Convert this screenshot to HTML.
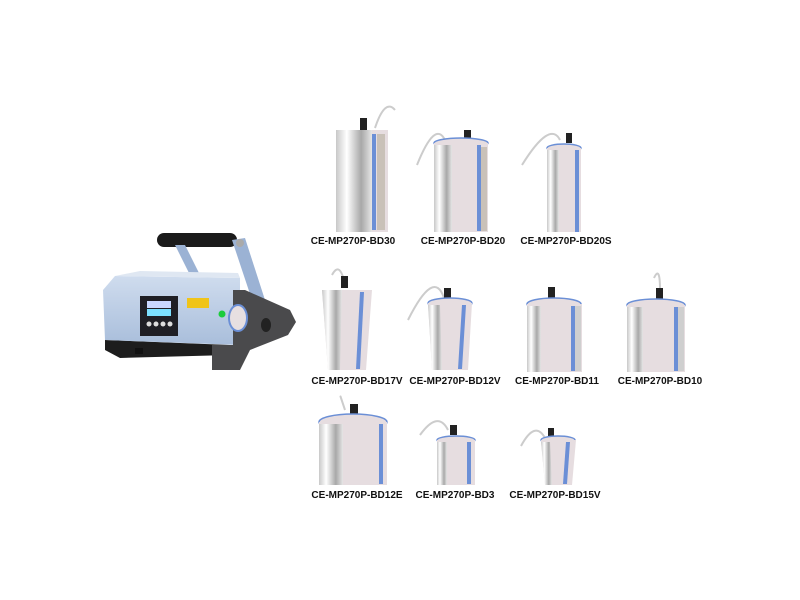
<!DOCTYPE html>
<html><head><meta charset="utf-8"><style>
html,body{margin:0;padding:0;background:#fff;}
svg{display:block}
text{font-family:"Liberation Sans",sans-serif;font-weight:bold;font-size:10px;fill:#111;text-anchor:middle}
</style></head><body>
<svg width="800" height="600" viewBox="0 0 800 600" xmlns="http://www.w3.org/2000/svg">
<defs>
<linearGradient id="sv" x1="0" x2="1" y1="0" y2="0">
<stop offset="0" stop-color="#c8c8c8"/><stop offset="0.3" stop-color="#ffffff"/><stop offset="0.7" stop-color="#a8a8a8"/><stop offset="1" stop-color="#e6e6e6"/>
</linearGradient>
<linearGradient id="bl" x1="0" x2="0" y1="0" y2="1">
<stop offset="0" stop-color="#cfdcee"/><stop offset="1" stop-color="#a9bedb"/>
</linearGradient>
</defs>

<!-- machine -->
<rect x="157" y="233" width="80" height="14" rx="7" fill="#1b1b1b"/>
<polygon points="175,245 185,245 200,275 190,275" fill="#9bb2d4"/>
<polygon points="232,240 245,238 265,300 252,300" fill="#9bb2d4"/>
<circle cx="240" cy="243" r="4" fill="#aaa"/>
<polygon points="105,340 230,345 230,355 120,358 105,350" fill="#1d1d1d"/>
<polygon points="103,290 115,276 240,278 240,345 105,340" fill="url(#bl)"/>
<polygon points="115,276 140,271 238,273 240,278" fill="#dfe7f2"/>
<rect x="140" y="296" width="38" height="40" fill="#1f1f25"/>
<rect x="147" y="301" width="24" height="7" fill="#c9d8ff"/>
<rect x="147" y="309" width="24" height="7" fill="#7ce0ff"/>
<circle cx="149" cy="324" r="2.5" fill="#ddd"/><circle cx="156" cy="324" r="2.5" fill="#ddd"/><circle cx="163" cy="324" r="2.5" fill="#ddd"/><circle cx="170" cy="324" r="2.5" fill="#ddd"/>
<rect x="187" y="298" width="22" height="10" fill="#f0c419"/>
<circle cx="222" cy="314" r="3.5" fill="#1bcc3b"/>
<polygon points="233,290 245,290 290,310 296,322 288,335 250,350 240,370 212,370 212,345 233,345" fill="#4a4a4c"/>
<ellipse cx="238" cy="318" rx="9" ry="13" fill="#e7dfe1" stroke="#6b8fd6" stroke-width="2"/>
<ellipse cx="266" cy="325" rx="5" ry="7" fill="#222"/>
<rect x="135" y="348" width="8" height="6" fill="#111"/>

<!-- sleeve helper: silver left, pink interior, blue right strip -->
<!-- BD30 -->
<path d="M375 128 q10 -30 20 -18" stroke="#ccc" stroke-width="2" fill="none"/>
<rect x="360" y="118" width="7" height="12" fill="#222"/>
<rect x="336" y="130" width="52" height="102" fill="#e6dde0"/>
<rect x="336" y="130" width="36" height="102" fill="url(#sv)"/>
<rect x="372" y="134" width="4" height="96" fill="#6b8fd6"/>
<rect x="377" y="134" width="8" height="96" fill="#c9c1b8"/>
<text x="353" y="244">CE-MP270P-BD30</text>
<!-- BD20 -->
<path d="M445 140 q-10 -20 -28 25" stroke="#ccc" stroke-width="2" fill="none"/>
<rect x="464" y="130" width="7" height="12" fill="#222"/>
<ellipse cx="461" cy="143" rx="27" ry="5" fill="#e6dde0" stroke="#6b8fd6" stroke-width="1.5"/>
<rect x="434" y="143" width="54" height="89" fill="#e6dde0"/>
<rect x="434" y="145" width="18" height="87" fill="url(#sv)"/>
<rect x="477" y="145" width="4" height="86" fill="#6b8fd6"/>
<rect x="481" y="147" width="6" height="84" fill="#c9c1b8"/>
<text x="463" y="244">CE-MP270P-BD20</text>
<!-- BD20S -->
<path d="M560 140 q-10 -20 -38 25" stroke="#ccc" stroke-width="2" fill="none"/>
<rect x="566" y="133" width="6" height="10" fill="#222"/>
<ellipse cx="564" cy="148" rx="17" ry="4" fill="#e6dde0" stroke="#6b8fd6" stroke-width="1.5"/>
<rect x="547" y="148" width="34" height="84" fill="#e6dde0"/>
<rect x="547" y="150" width="12" height="82" fill="url(#sv)"/>
<rect x="575" y="150" width="4" height="82" fill="#6b8fd6"/>
<text x="566" y="244">CE-MP270P-BD20S</text>

<!-- BD17V -->
<path d="M345 285 q-5 -25 -13 -10" stroke="#ccc" stroke-width="2" fill="none"/>
<rect x="341" y="276" width="7" height="12" fill="#222"/>
<polygon points="322,290 372,290 366,370 328,370" fill="#e6dde0"/>
<polygon points="322,290 342,290 340,370 328,370" fill="url(#sv)"/>
<polygon points="360,292 364,292 360,369 356,369" fill="#6b8fd6"/>
<text x="357" y="384">CE-MP270P-BD17V</text>
<!-- BD12V -->
<path d="M444 298 q-10 -30 -36 22" stroke="#ccc" stroke-width="2" fill="none"/>
<rect x="444" y="288" width="7" height="10" fill="#222"/>
<ellipse cx="450" cy="303" rx="22" ry="5" fill="#e6dde0" stroke="#6b8fd6" stroke-width="1.5"/>
<polygon points="428,303 472,303 468,370 432,370" fill="#e6dde0"/>
<polygon points="428,305 440,305 442,370 432,370" fill="url(#sv)"/>
<polygon points="462,305 466,305 462,369 458,369" fill="#6b8fd6"/>
<text x="455" y="384">CE-MP270P-BD12V</text>
<!-- BD11 -->
<rect x="548" y="287" width="7" height="12" fill="#222"/>
<ellipse cx="554" cy="304" rx="27" ry="6" fill="#e6dde0" stroke="#6b8fd6" stroke-width="1.5"/>
<rect x="527" y="304" width="55" height="68" fill="#e6dde0"/>
<rect x="527" y="306" width="14" height="66" fill="url(#sv)"/>
<rect x="571" y="306" width="4" height="65" fill="#6b8fd6"/>
<rect x="575" y="306" width="6" height="65" fill="#cfcfcf"/>
<text x="557" y="384">CE-MP270P-BD11</text>
<!-- BD10 -->
<path d="M660 290 q0 -25 -6 -12" stroke="#ccc" stroke-width="2" fill="none"/>
<rect x="656" y="288" width="7" height="12" fill="#222"/>
<ellipse cx="656" cy="305" rx="29" ry="6" fill="#e6dde0" stroke="#6b8fd6" stroke-width="1.5"/>
<rect x="627" y="305" width="58" height="67" fill="#e6dde0"/>
<rect x="627" y="307" width="16" height="65" fill="url(#sv)"/>
<rect x="674" y="307" width="4" height="64" fill="#6b8fd6"/>
<rect x="678" y="307" width="6" height="64" fill="#cfcfcf"/>
<text x="660" y="384">CE-MP270P-BD10</text>

<!-- BD12E -->
<path d="M345 410 q-6 -18 -4 -12" stroke="#ccc" stroke-width="2" fill="none"/>
<rect x="350" y="404" width="8" height="10" fill="#222"/>
<ellipse cx="353" cy="422" rx="34" ry="8" fill="#e6dde0" stroke="#6b8fd6" stroke-width="1.5"/>
<rect x="319" y="422" width="68" height="63" fill="#e6dde0"/>
<rect x="319" y="424" width="24" height="61" fill="url(#sv)"/>
<rect x="379" y="424" width="4" height="60" fill="#6b8fd6"/>
<text x="357" y="498">CE-MP270P-BD12E</text>
<!-- BD3 -->
<path d="M448 430 q-10 -20 -28 5" stroke="#ccc" stroke-width="2" fill="none"/>
<rect x="450" y="425" width="7" height="10" fill="#222"/>
<ellipse cx="456" cy="440" rx="19" ry="4" fill="#e6dde0" stroke="#6b8fd6" stroke-width="1.5"/>
<rect x="437" y="440" width="38" height="45" fill="#e6dde0"/>
<rect x="437" y="442" width="10" height="43" fill="url(#sv)"/>
<rect x="467" y="442" width="4" height="42" fill="#6b8fd6"/>
<text x="455" y="498">CE-MP270P-BD3</text>
<!-- BD15V -->
<path d="M545 438 q-10 -18 -24 8" stroke="#ccc" stroke-width="2" fill="none"/>
<rect x="548" y="428" width="6" height="10" fill="#222"/>
<ellipse cx="558" cy="440" rx="17" ry="4" fill="#e6dde0" stroke="#6b8fd6" stroke-width="1.5"/>
<polygon points="541,440 576,440 572,485 545,485" fill="#e6dde0"/>
<polygon points="541,442 550,442 552,485 545,485" fill="url(#sv)"/>
<polygon points="566,442 570,442 567,484 563,484" fill="#6b8fd6"/>
<text x="555" y="498">CE-MP270P-BD15V</text>
</svg>
</body></html>
